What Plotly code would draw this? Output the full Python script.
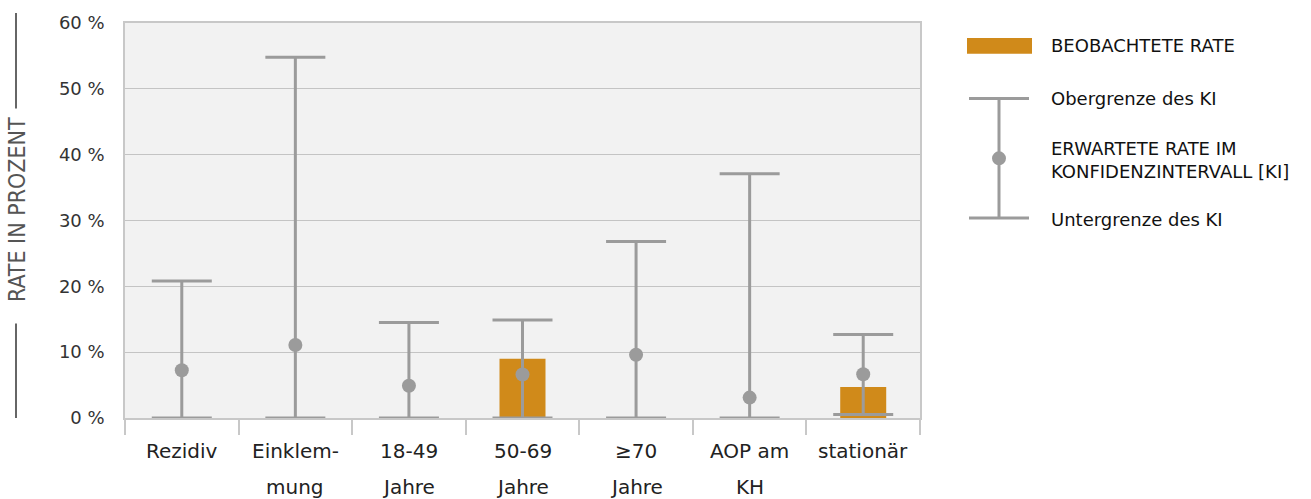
import plotly.graph_objects as go

# ---- data ----
categories = ["Rezidiv", "Einklemmung", "18-49 Jahre", "50-69 Jahre", "≥70 Jahre", "AOP am KH", "stationär"]
label_line1 = ["Rezidiv", "Einklem-", "18-49", "50-69", "≥70", "AOP am", "stationär"]
label_line2 = ["", "mung", "Jahre", "Jahre", "Jahre", "KH", ""]
observed_rate = [None, None, None, 9.0, None, None, 4.7]
expected_rate = [7.25, 11.1, 4.9, 6.6, 9.6, 3.1, 6.65]
ci_upper = [20.8, 54.8, 14.5, 14.9, 26.8, 37.1, 12.7]
ci_lower = [0.0, 0.0, 0.0, 0.0, 0.0, 0.0, 0.55]
y_ticks = [0, 10, 20, 30, 40, 50, 60]
y_tick_labels = [f"{v} %" for v in y_ticks]

# ---- layout geometry (pixels) ----
W, H = 1311, 499
PL, PR, PT, PB = 125, 920, 21, 418


def px_x(p):
    return (p - PL) / (PR - PL)


def px_y(p):
    return (PB - p) / (PB - PT)


GRAY = "#9b9b9b"
ORANGE = "#D08A1A"
FONT = "DejaVu Sans"

fig = go.Figure()

fig.add_trace(go.Bar(
    x=categories, y=observed_rate, width=0.405,
    marker=dict(color=ORANGE, line=dict(width=0)),
    showlegend=False, hoverinfo="skip",
))

fig.add_trace(go.Scatter(
    x=categories, y=expected_rate, mode="markers",
    marker=dict(color=GRAY, size=14),
    error_y=dict(
        type="data", symmetric=False,
        array=[u - e for u, e in zip(ci_upper, expected_rate)],
        arrayminus=[e - l for e, l in zip(expected_rate, ci_lower)],
        color=GRAY, thickness=3, width=30,
    ),
    cliponaxis=False, showlegend=False,
))

shapes = []
annotations = []

# x labels as two-line annotations
for c, l1, l2 in zip(categories, label_line1, label_line2):
    annotations.append(dict(x=c, xref="x", y=px_y(451), yref="paper", text=l1,
                            showarrow=False, xanchor="center", yanchor="middle",
                            font=dict(family=FONT, size=20, color="#222222")))
    if l2:
        annotations.append(dict(x=c, xref="x", y=px_y(487), yref="paper", text=l2,
                                showarrow=False, xanchor="center", yanchor="middle",
                                font=dict(family=FONT, size=20, color="#222222")))

# y axis title with lines
annotations.append(dict(x=px_x(17), xref="paper", y=px_y(209), yref="paper",
                        text="RATE IN PROZENT", textangle=-90, showarrow=False,
                        xanchor="center", yanchor="middle",
                        font=dict(family="DejaVu Sans Condensed, DejaVu Sans", size=23, color="#555555")))
for y0, y1 in [(11, 107), (323, 418)]:
    shapes.append(dict(type="line", xref="paper", yref="paper",
                       x0=px_x(16), x1=px_x(16), y0=px_y(y0), y1=px_y(y1),
                       line=dict(color="#666666", width=2)))

# legend (custom)
shapes.append(dict(type="rect", xref="paper", yref="paper",
                   x0=px_x(967), x1=px_x(1032), y0=px_y(36), y1=px_y(52),
                   fillcolor=ORANGE, line=dict(width=0)))
shapes.append(dict(type="line", xref="paper", yref="paper",
                   x0=px_x(999), x1=px_x(999), y0=px_y(97), y1=px_y(217),
                   line=dict(color=GRAY, width=3)))
for yy in (97, 217):
    shapes.append(dict(type="line", xref="paper", yref="paper",
                       x0=px_x(969), x1=px_x(1029), y0=px_y(yy), y1=px_y(yy),
                       line=dict(color=GRAY, width=3)))
shapes.append(dict(type="circle", xref="paper", yref="paper",
                   x0=px_x(992), x1=px_x(1006), y0=px_y(150), y1=px_y(164),
                   fillcolor=GRAY, line=dict(width=0)))

legend_texts = [
    ("BEOBACHTETE RATE", 44),
    ("Obergrenze des KI", 97),
    ("ERWARTETE RATE IM<br>KONFIDENZINTERVALL [KI]", 159),
    ("Untergrenze des KI", 218),
]
for t, yy in legend_texts:
    annotations.append(dict(x=px_x(1049), xref="paper", y=px_y(yy), yref="paper",
                            text=t, showarrow=False, xanchor="left", yanchor="middle",
                            align="left",
                            font=dict(family=FONT, size=18, color="#111111")))

fig.update_layout(
    width=W, height=H,
    margin=dict(l=PL, r=W - PR, t=PT, b=H - PB, pad=0),
    paper_bgcolor="white",
    plot_bgcolor="#f2f2f2",
    shapes=shapes,
    annotations=annotations,
    showlegend=False,
    font=dict(family=FONT),
)

fig.update_xaxes(
    type="category", categoryorder="array", categoryarray=categories,
    showticklabels=False, showgrid=False, zeroline=False,
    ticks="outside", tickson="boundaries", ticklen=15, tickwidth=1.5,
    tickcolor="#c8c8c8",
    showline=True, linecolor="#c8c8c8", linewidth=1.5, mirror=True,
    range=[-0.5, 6.5],
)

fig.update_yaxes(
    range=[0, 60], tickmode="array", tickvals=y_ticks, ticktext=y_tick_labels,
    showgrid=True, gridcolor="#c4c4c4", gridwidth=1.3,
    zeroline=False, ticks="", ticklabelstandoff=15,
    tickfont=dict(family=FONT, size=18, color="#333333"),
    showline=True, linecolor="#c8c8c8", linewidth=1.5, mirror=True,
)

fig.write_html(
    "out.html",
    config={"displayModeBar": False},
    post_script="document.body.style.margin='0';document.body.style.padding='0';document.body.style.overflow='hidden';",
)
